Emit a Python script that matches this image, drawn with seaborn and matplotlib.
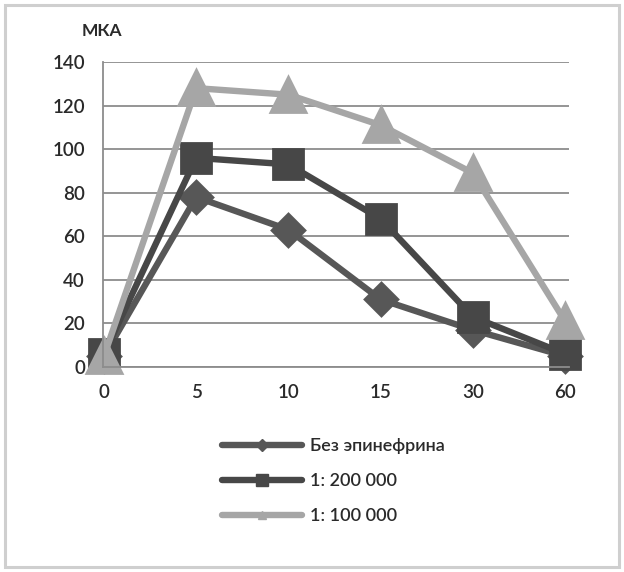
import matplotlib
matplotlib.use("Agg")
import matplotlib.pyplot as plt
from matplotlib.lines import Line2D
from matplotlib.patches import Rectangle
import seaborn as sns
import pandas as pd

# Time points (min) and measured values for each epinephrine dilution
time_points = ["0", "5", "10", "15", "30", "60"]
no_epinephrine = [5, 78, 63, 31, 17, 5]
dilution_200k = [6, 96, 93, 68, 23, 6]
dilution_100k = [5, 128, 125, 111, 89, 21]

series_names = ["Без эпинефрина", "1: 200 000", "1: 100 000"]
series_values = [no_epinephrine, dilution_200k, dilution_100k]
colors = ["#575757", "#474747", "#a6a6a6"]
markers = ["D", "s", "^"]
marker_sizes = [15, 20, 23]
legend_marker_sizes = [6, 8, 6]

rows = []
for name, vals in zip(series_names, series_values):
    for t, v in zip(time_points, vals):
        rows.append({"time": t, "value": v, "series": name})
df = pd.DataFrame(rows)

sns.set_theme(style="white")
plt.rcParams["font.family"] = ["Lato", "DejaVu Sans"]

fig = plt.figure(figsize=(6.24, 5.72), dpi=100)
ax = fig.add_axes([0.165, 0.3584, 0.747, 0.5332])

for name, col, mk, ms in zip(series_names, colors, markers, marker_sizes):
    sub = df[df["series"] == name]
    sns.pointplot(data=sub, x="time", y="value", order=time_points,
                  color=col, markers=mk, linestyles="-", ax=ax,
                  markersize=ms, linewidth=4.6, errorbar=None)

# Let markers at the axis edges show in full
for line in ax.lines:
    line.set_clip_on(False)

ax.set_xlim(-0.011, 5.043)
ax.set_ylim(0, 140)
ax.set_yticks(range(0, 141, 20))
ax.set_xlabel("")
ax.set_ylabel("")
ax.grid(axis="y", color="#8c8c8c", linewidth=1.3)
ax.set_axisbelow(True)
for side in ["top", "right"]:
    ax.spines[side].set_visible(False)
for side in ["left", "bottom"]:
    ax.spines[side].set_color("#8c8c8c")
    ax.spines[side].set_linewidth(1.3)
ax.tick_params(axis="both", which="both", direction="out", length=4,
               width=1.3, color="#8c8c8c", labelsize=13.5,
               labelcolor="#2a2a2a")
ax.tick_params(axis="x", pad=8)
ax.tick_params(axis="y", pad=9)
for lab in ax.get_xticklabels() + ax.get_yticklabels():
    lab.set_fontweight("semibold")

fig.text(82 / 624, 1 - 31 / 572, "МКА", fontsize=12.5, fontweight="bold",
         color="#2a2a2a", ha="left", va="center")

handles = [Line2D([], [], color=c, lw=4.6, marker=m, markersize=s)
           for c, m, s in zip(colors, markers, legend_marker_sizes)]
leg = fig.legend(handles, series_names, loc="upper left",
                 bbox_to_anchor=(222 / 624, 1 - 438 / 572), frameon=False,
                 fontsize=13, handlelength=4.45, handletextpad=0.45,
                 labelspacing=1.05, borderpad=0, borderaxespad=0,
                 labelcolor="#2a2a2a")
for txt in leg.get_texts():
    txt.set_fontweight("semibold")

fig.patches.append(Rectangle((5 / 624, 5 / 572), 614 / 624, 562 / 572,
                             transform=fig.transFigure, fill=False,
                             edgecolor="#cfcfcf", linewidth=2.2))

fig.savefig("out.png", dpi=100)
